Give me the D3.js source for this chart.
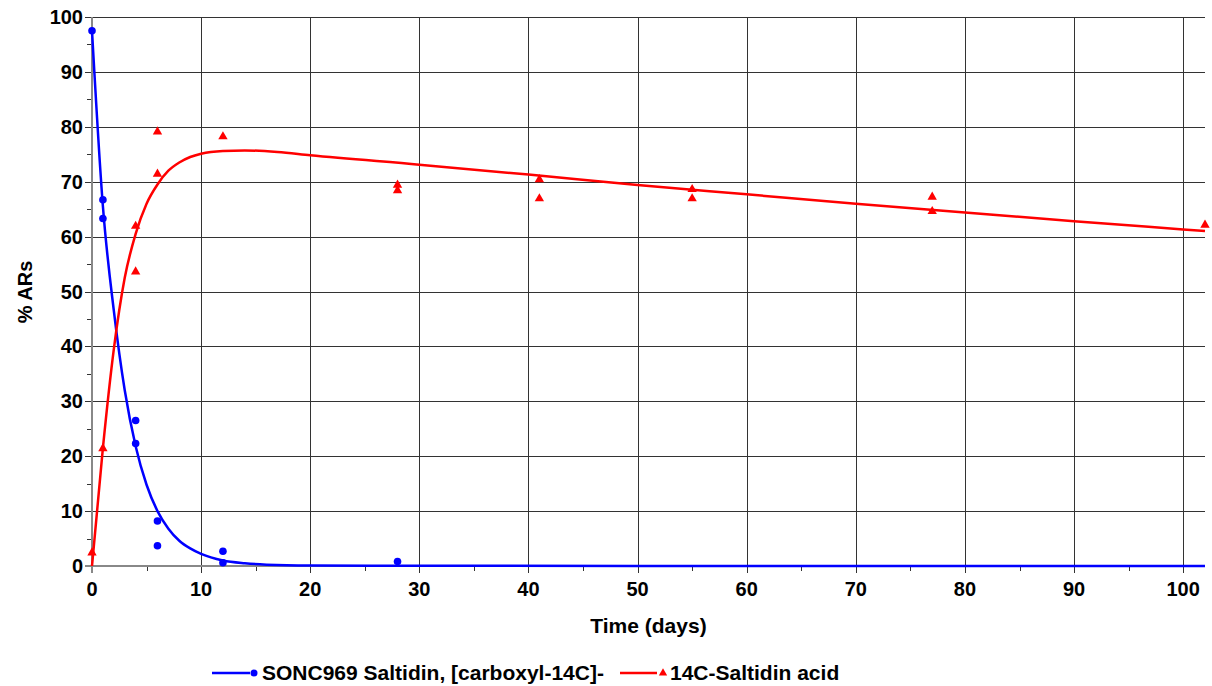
<!DOCTYPE html>
<html>
<head>
<meta charset="utf-8">
<script src="https://cdn.jsdelivr.net/npm/d3@7"></script>
<style>
  body { margin: 0; background: #fff; }
  text { font-family: "Liberation Sans", Arial, sans-serif; font-weight: bold; }
</style>
</head>
<body>
<svg id="chart" width="1212" height="686"></svg>
<script>
// observed values
var parent_days = [0, 1, 1, 4, 4, 6, 6, 12, 12, 28];
var parent_pct  = [97.5, 66.7, 63.3, 26.5, 22.3, 8.2, 3.7, 2.7, 0.6, 0.8];

var acid_days = [0, 1, 4, 4, 6, 6, 12, 28, 28, 41, 41, 55, 55, 77, 77, 102];
var acid_pct  = [2.5, 21.5, 62, 53.7, 79.2, 71.5, 78.3, 69.5, 68.5, 70.5, 67, 68.7, 67, 67.3, 64.7, 62.2];

// fitted curves
var parent_fit_days = [0, 1, 2, 3, 4, 5, 6, 7, 8, 9, 10, 12, 14, 16, 20, 30, 50, 102];
var parent_fit_pct  = [97.5, 65.5, 46.5, 32, 21.8, 14.8, 10, 6.8, 4.6, 3.2, 2.2, 1.0, 0.5, 0.25, 0.1, 0.05, 0.02, 0];

var acid_fit_days = [0, 1, 2, 3, 4, 5, 6, 7, 8, 9, 10, 12, 14, 17, 20, 30, 40, 50, 60, 70, 80, 90, 100, 102];
var acid_fit_pct  = [0, 21.5, 39.5, 52.5, 60.5, 66, 69.5, 72, 73.5, 74.5, 75.1, 75.6, 75.7, 75.4, 74.8, 73.1, 71.3, 69.4, 67.7, 66.0, 64.4, 62.8, 61.3, 61.0];

var x_ticks = [0, 10, 20, 30, 40, 50, 60, 70, 80, 90, 100];
var y_ticks = [0, 10, 20, 30, 40, 50, 60, 70, 80, 90, 100];

var svg = d3.select("#chart");
var m = {left: 92, right: 1205, top: 17, bottom: 566};

var x = d3.scaleLinear().domain([0, 102]).range([m.left, m.right]);
var y = d3.scaleLinear().domain([0, 100]).range([m.bottom, m.top]);

// grid
var grid = svg.append("g");
grid.selectAll(".hg").data(y_ticks.filter(function(d) { return d > 0; })).enter()
    .append("line")
    .attr("x1", m.left - 7).attr("x2", m.right)
    .attr("y1", function(d) { return Math.round(y(d)) + 0.5; })
    .attr("y2", function(d) { return Math.round(y(d)) + 0.5; })
    .attr("stroke", "#333").attr("stroke-width", 1);
grid.selectAll(".vg").data(x_ticks.filter(function(d) { return d > 0; })).enter()
    .append("line")
    .attr("x1", function(d) { return Math.round(x(d)) + 0.5; })
    .attr("x2", function(d) { return Math.round(x(d)) + 0.5; })
    .attr("y1", m.top).attr("y2", m.bottom + 7)
    .attr("stroke", "#333").attr("stroke-width", 1);

// minor ticks
var minor = d3.range(5, 100, 10);
grid.selectAll(".my").data(minor).enter().append("line")
    .attr("x1", m.left - 5).attr("x2", m.left)
    .attr("y1", function(d) { return Math.round(y(d)) + 0.5; })
    .attr("y2", function(d) { return Math.round(y(d)) + 0.5; })
    .attr("stroke", "#333");
grid.selectAll(".mx").data(minor).enter().append("line")
    .attr("x1", function(d) { return Math.round(x(d)) + 0.5; })
    .attr("x2", function(d) { return Math.round(x(d)) + 0.5; })
    .attr("y1", m.bottom).attr("y2", m.bottom + 5)
    .attr("stroke", "#333");

// axis lines
svg.append("line")
    .attr("x1", m.left - 7).attr("x2", m.right)
    .attr("y1", m.bottom).attr("y2", m.bottom)
    .attr("stroke", "#888").attr("stroke-width", 2);
svg.append("line")
    .attr("x1", m.left).attr("x2", m.left)
    .attr("y1", m.top).attr("y2", m.bottom + 7)
    .attr("stroke", "#888").attr("stroke-width", 2);

// tick labels
svg.selectAll(".yl").data(y_ticks).enter().append("text")
    .attr("x", 83).attr("y", function(d) { return y(d) + 7; })
    .attr("text-anchor", "end").attr("font-size", 20)
    .text(function(d) { return d; });
svg.selectAll(".xl").data(x_ticks).enter().append("text")
    .attr("x", function(d) { return x(d); }).attr("y", 596)
    .attr("text-anchor", "middle").attr("font-size", 20)
    .text(function(d) { return d; });

// axis titles
svg.append("text")
    .attr("x", (m.left + m.right) / 2).attr("y", 633)
    .attr("text-anchor", "middle").attr("font-size", 21)
    .text("Time (days)");
svg.append("text")
    .attr("transform", "translate(32,292) rotate(-90)")
    .attr("text-anchor", "middle").attr("font-size", 20)
    .text("% ARs");

// curves
var line = d3.line()
    .x(function(d) { return x(d[0]); })
    .y(function(d) { return y(d[1]); })
    .curve(d3.curveMonotoneX);

svg.append("path")
    .datum(d3.zip(parent_fit_days, parent_fit_pct))
    .attr("d", line).attr("fill", "none")
    .attr("stroke", "#0000ff").attr("stroke-width", 2.5);
svg.append("path")
    .datum(d3.zip(acid_fit_days, acid_fit_pct))
    .attr("d", line).attr("fill", "none")
    .attr("stroke", "#ff0000").attr("stroke-width", 2.5);

// markers
var tri = d3.symbol().type(d3.symbolTriangle).size(38);
svg.selectAll(".pm").data(d3.zip(parent_days, parent_pct)).enter()
    .append("circle")
    .attr("cx", function(d) { return x(d[0]); })
    .attr("cy", function(d) { return y(d[1]); })
    .attr("r", 3.8).attr("fill", "#0000ff");
svg.selectAll(".am").data(d3.zip(acid_days, acid_pct)).enter()
    .append("path")
    .attr("d", tri)
    .attr("transform", function(d) { return "translate(" + x(d[0]) + "," + (y(d[1]) + 0.5) + ")"; })
    .attr("fill", "#ff0000");

// legend
var leg = svg.append("g");
leg.append("line").attr("x1", 212).attr("x2", 250).attr("y1", 673).attr("y2", 673)
    .attr("stroke", "#0000ff").attr("stroke-width", 2.5);
leg.append("circle").attr("cx", 254).attr("cy", 673).attr("r", 3.5).attr("fill", "#0000ff");
leg.append("text").attr("x", 262).attr("y", 680).attr("font-size", 21)
    .text("SONC969 Saltidin, [carboxyl-14C]-");
leg.append("line").attr("x1", 620).attr("x2", 657).attr("y1", 673).attr("y2", 673)
    .attr("stroke", "#ff0000").attr("stroke-width", 2.5);
leg.append("path").attr("d", d3.symbol().type(d3.symbolTriangle).size(30))
    .attr("transform", "translate(663,673)").attr("fill", "#ff0000");
leg.append("text").attr("x", 670).attr("y", 680).attr("font-size", 21)
    .text("14C-Saltidin acid");
</script>
</body>
</html>
